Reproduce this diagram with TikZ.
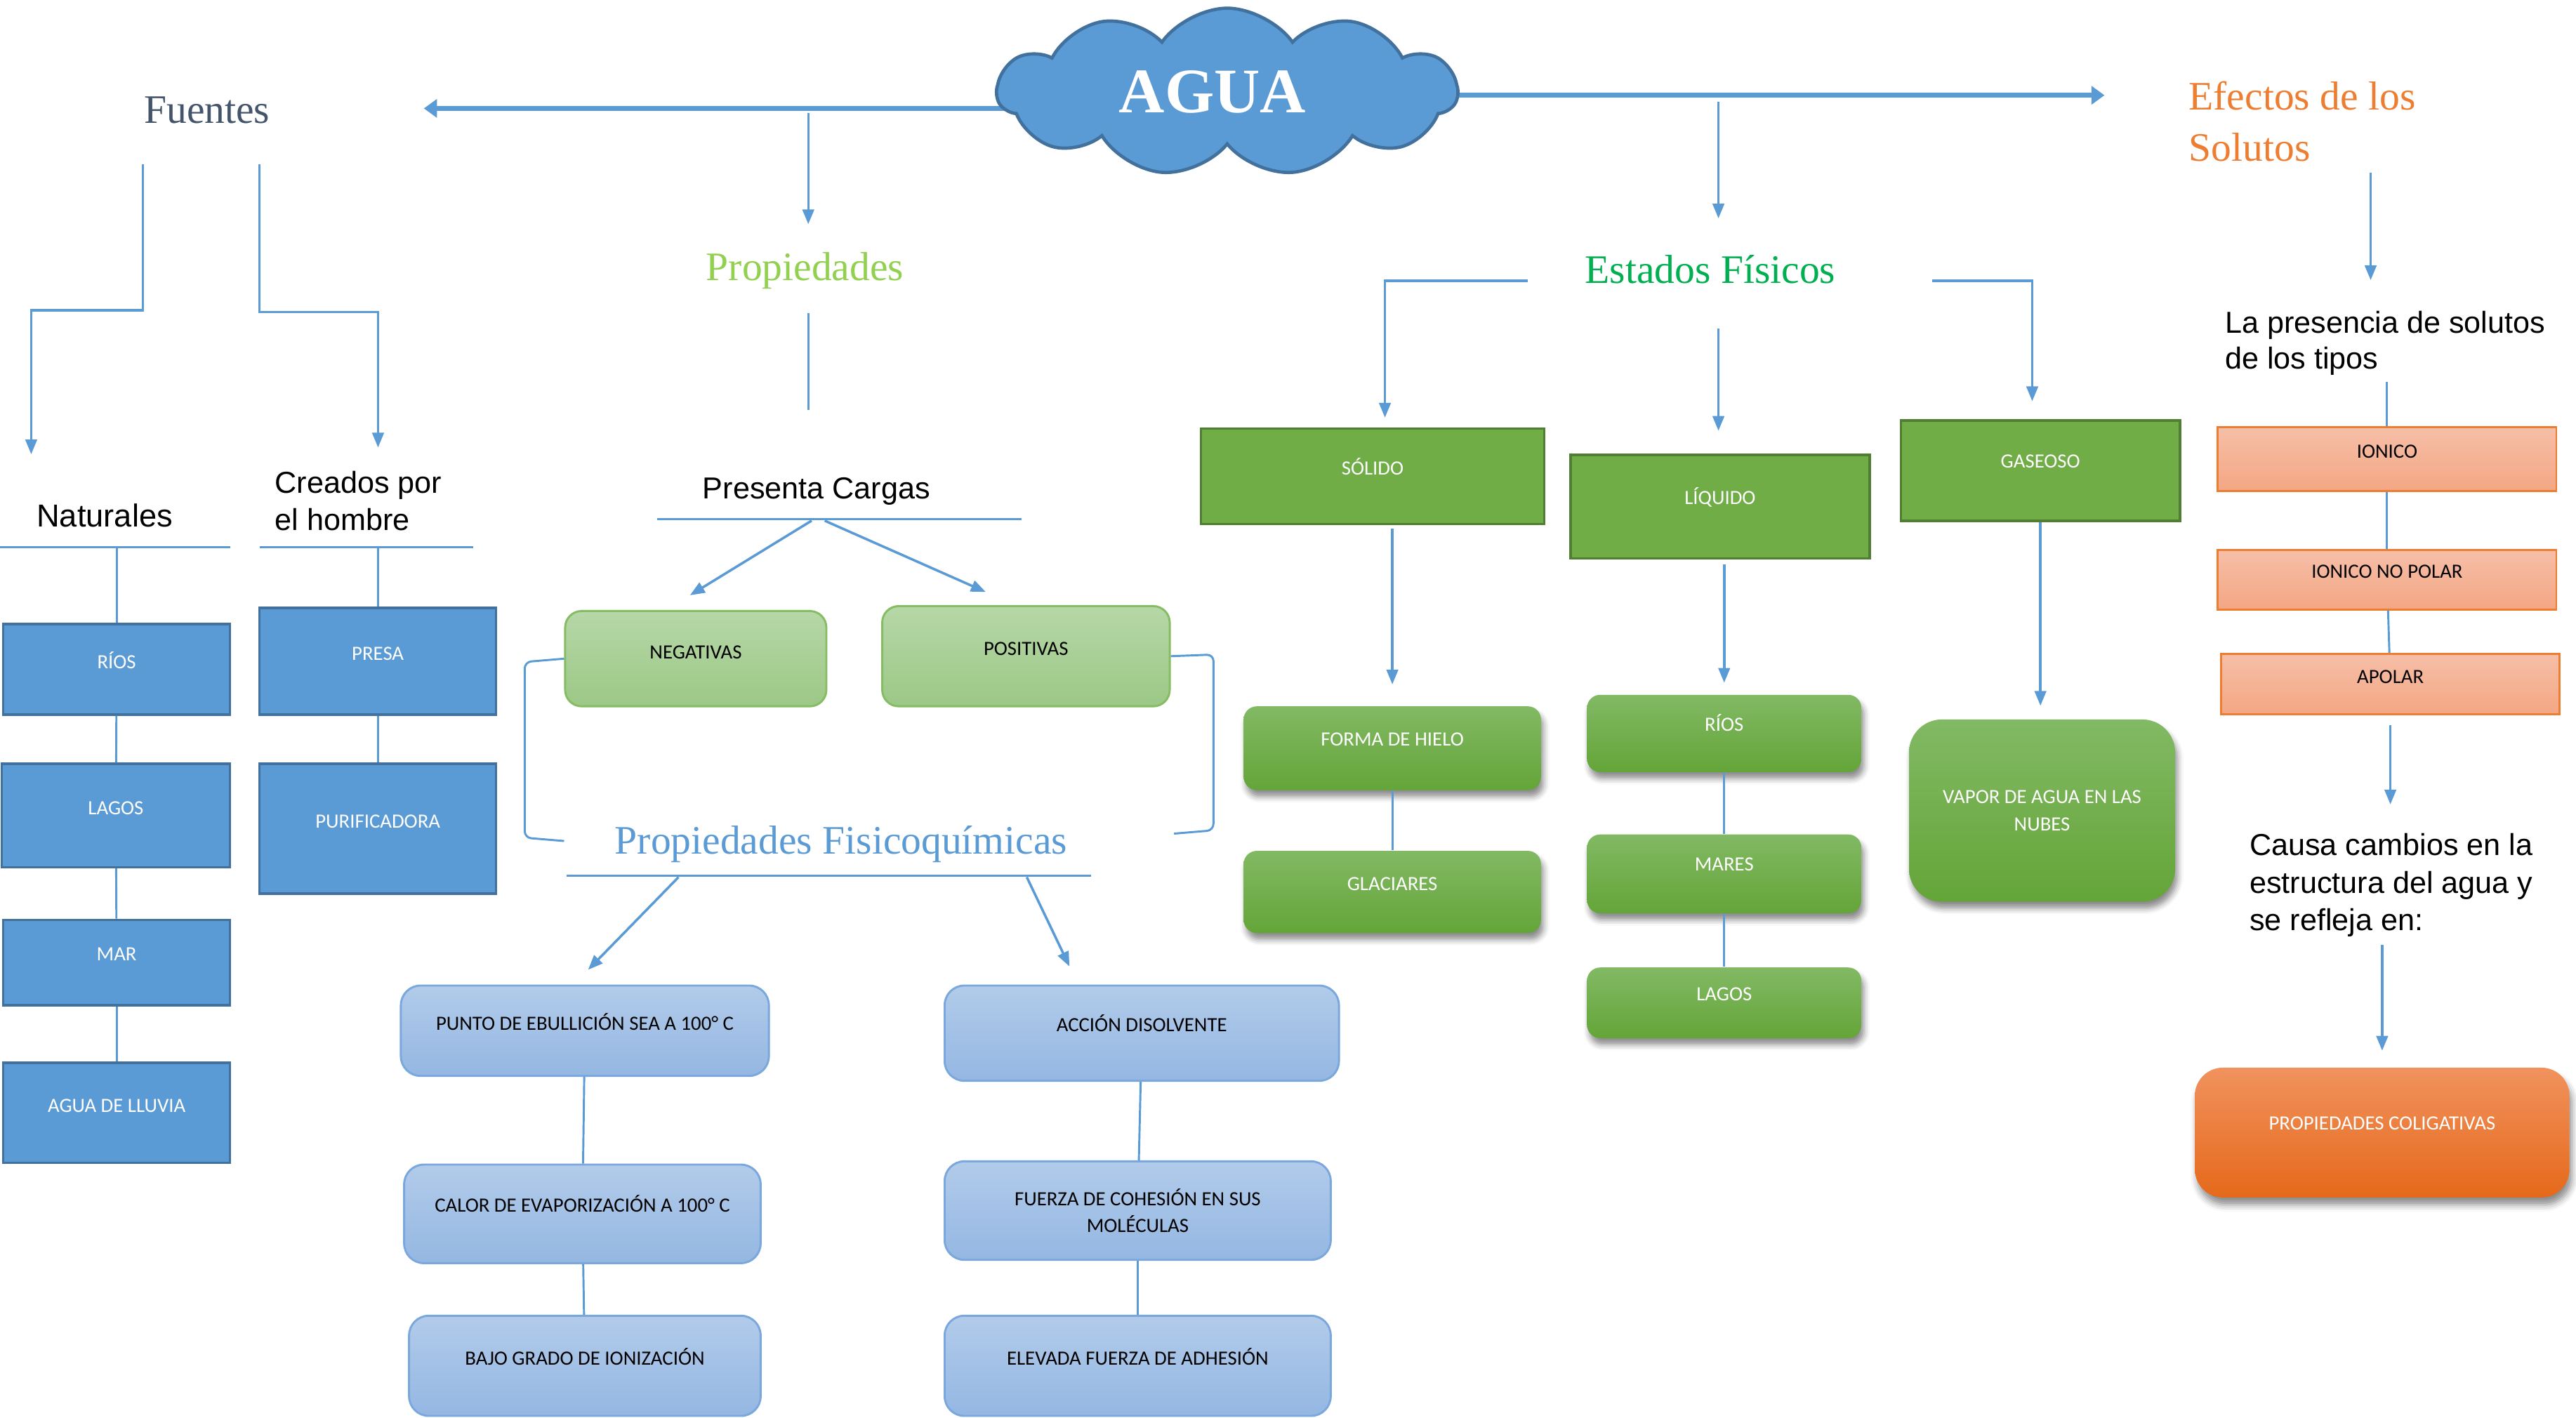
\documentclass[tikz,border=0pt]{standalone}
\usepackage{fontspec}
\setmainfont{Liberation Serif}
\newfontfamily\arialf{Liberation Sans}
\newfontfamily\calf{Carlito}
\usetikzlibrary{arrows.meta, shapes.symbols, shadows.blur, backgrounds}

\definecolor{cblue}{HTML}{5B9BD5}
\definecolor{cbluedark}{HTML}{41719C}
\definecolor{cgreen}{HTML}{70AD47}
\definecolor{cgreendark}{HTML}{507E32}
\definecolor{corange}{HTML}{ED7D31}
\definecolor{cslate}{HTML}{44546A}
\definecolor{clime}{HTML}{92D050}
\definecolor{cemerald}{HTML}{00B050}
\definecolor{lgtop}{HTML}{B6D7A7}
\definecolor{lgbot}{HTML}{9CC886}
\definecolor{lgline}{HTML}{86BC63}
\definecolor{lbtop}{HTML}{B2CBEA}
\definecolor{lbbot}{HTML}{94B7E2}
\definecolor{lbline}{HTML}{7AA7DC}
\definecolor{mgtop}{HTML}{82B964}
\definecolor{mgbot}{HTML}{64A538}
\definecolor{satop}{HTML}{F6BFA8}
\definecolor{sabot}{HTML}{F4A683}
\definecolor{ortop}{HTML}{F1925E}
\definecolor{orbot}{HTML}{E5691A}

\begin{document}
\begin{tikzpicture}[
    x=0.2mm, y=-0.2mm,
    conn/.style={draw=cblue, line width=0.25mm},
    arrow/.style={draw=cblue, line width=0.3mm, -{Triangle[length=1.8mm, width=1.4mm]}},
    bigarrow/.style={draw=cblue, line width=0.6mm, -{Triangle[length=1.6mm, width=2.2mm]}},
    head/.style={inner sep=0pt, align=left, font=\fontsize{14pt}{17.6pt}\selectfont},
    note/.style={inner sep=0pt, align=left, font=\arialf\fontsize{10.5pt}{13pt}\selectfont},
    box/.style={align=center, inner xsep=2pt, inner ysep=0pt, font=\calf\fontsize{7pt}{9.4pt}\selectfont},
    dim/.style n args={3}{minimum width=#1mm, text height=#2mm, text depth=#3mm},
    srcbox/.style={box, fill=cblue, draw=cbluedark, line width=0.3mm, text=white},
    chgbox/.style={box, rounded corners=2mm, top color=lgtop, bottom color=lgbot, draw=lgline, line width=0.25mm},
    fqbox/.style={box, rounded corners=2.4mm, top color=lbtop, bottom color=lbbot, draw=lbline, line width=0.25mm},
    statebox/.style={box, fill=cgreen, draw=cgreendark, line width=0.3mm, text=white},
    formbox/.style={box, rounded corners=1.6mm, top color=mgtop, bottom color=mgbot, text=white,
      blur shadow={shadow xshift=0.3mm, shadow yshift=-0.8mm, shadow blur radius=0.7mm, shadow opacity=45}},
    solbox/.style={box, top color=satop, bottom color=sabot, draw=corange, line width=0.25mm},
    endbox/.style={box, rounded corners=3.4mm, top color=ortop, bottom color=orbot, text=white,
      blur shadow={shadow xshift=0.3mm, shadow yshift=-0.9mm, shadow blur radius=0.8mm, shadow opacity=45}}
  ]
    \useasboundingbox (0,0) rectangle (1568,863);

    \node[cloud, cloud puffs=11, cloud puff arc=110, aspect=2.7, fill=cblue, draw=cbluedark, line width=0.4mm,
          minimum width=56mm, minimum height=20.4mm, inner sep=0pt, text=white,
          font=\bfseries\fontsize{22pt}{22pt}\selectfont] (agua) at (747,56) {AGUA\kern3.6mm};

    \node[head, text=cslate] (fuentes) at (126,67) {Fuentes};
    \node[head, text=clime] (prop) at (490,165) {Propiedades};
    \node[head, text=cemerald] (estados) at (1041,164) {Estados Físicos};
    \node[head, text=cblue] (fisico) at (512,514) {Propiedades Fisicoquímicas};
    \node[head, text=corange, anchor=west] (efectos) at (1332,74) {Efectos de los\\Solutos};

    \node[note, anchor=west, font=\arialf\fontsize{11pt}{13pt}\selectfont] (naturales) at (22,314) {Naturales};
    \node[note, anchor=west] (creados) at (167,305) {Creados por\\el hombre};
    \node[note] (cargas) at (497,299) {Presenta Cargas};
    \node[note, anchor=west, font=\arialf\fontsize{10.5pt}{12.5pt}\selectfont] (presencia) at (1354,209) {La presencia de solutos\\de los tipos};
    \node[note, anchor=west] (causa) at (1369,539) {Causa cambios en la\\estructura del agua y\\se refleja en:};

    \node[srcbox, dim={27.6}{5.4}{5.6}] (rios1) at (71,407.5) {RÍOS};
    \node[srcbox, dim={27.8}{6.2}{6.4}] (lagos1) at (70.5,496.5) {LAGOS};
    \node[srcbox, dim={27.6}{5.0}{5.4}] (mar) at (71,586) {MAR};
    \node[srcbox, dim={27.6}{6.0}{6.2}] (lluvia) at (71,677.5) {AGUA DE LLUVIA};
    \node[srcbox, dim={28.8}{6.4}{6.6}] (presa) at (230,402.5) {PRESA};
    \node[srcbox, dim={28.8}{7.8}{8.0}] (purif) at (230,504.5) {PURIFICADORA};

    \node[chgbox, dim={31.8}{5.8}{5.8}] (neg) at (423.5,401) {NEGATIVAS};
    \node[chgbox, dim={35}{6.0}{6.2}] (pos) at (624.5,399.5) {POSITIVAS};

    \node[fqbox, dim={44.8}{5.4}{5.6}] (ebull) at (356,627.5) {PUNTO DE EBULLICIÓN SEA A 100° C};
    \node[fqbox, dim={43.4}{5.8}{6.2}] (calor) at (354.5,739) {CALOR DE EVAPORIZACIÓN A 100° C};
    \node[fqbox, dim={42.8}{6.0}{6.2}] (bajo) at (356,831.5) {BAJO GRADO DE IONIZACIÓN};
    \node[fqbox, dim={48}{5.6}{6.0}] (accion) at (695,629) {ACCIÓN DISOLVENTE};
    \node[fqbox, minimum width=47mm, minimum height=12mm] (fuerza) at (692.5,737) {FUERZA DE COHESIÓN EN SUS\\MOLÉCULAS};
    \node[fqbox, dim={47}{6.0}{6.2}] (elevada) at (692.5,831.5) {ELEVADA FUERZA DE ADHESIÓN};

    \node[statebox, dim={41.8}{5.6}{6.0}] (solido) at (835.5,290) {SÓLIDO};
    \node[statebox, dim={36.4}{6.0}{6.6}] (liquido) at (1047,308.5) {LÍQUIDO};
    \node[statebox, dim={34}{5.8}{6.4}] (gaseoso) at (1242,286.5) {GASEOSO};

    \node[formbox, dim={36.2}{4.8}{5.4}] (hielo) at (847.5,455.5) {FORMA DE HIELO};
    \node[formbox, dim={36.2}{4.8}{5.2}] (glaciares) at (847.5,543) {GLACIARES};
    \node[formbox, dim={33.4}{4.4}{5.0}] (rios2) at (1049.5,446.5) {RÍOS};
    \node[formbox, dim={33.4}{4.4}{5.2}] (mares) at (1049.5,532) {MARES};
    \node[formbox, dim={33.4}{4.0}{4.6}] (lagos2) at (1049.5,610.5) {LAGOS};
    \node[formbox, rounded corners=4mm, minimum width=32.4mm, minimum height=22.2mm] (vapor) at (1243,493.5) {VAPOR DE AGUA EN LAS\\NUBES};

    \node[solbox, dim={41.2}{3.8}{4.0}] (ionico) at (1453,279.5) {IONICO};
    \node[solbox, dim={41.2}{3.4}{3.8}] (nopolar) at (1453,353) {IONICO NO POLAR};
    \node[solbox, dim={41.2}{3.6}{3.8}] (apolar) at (1455,416.5) {APOLAR};
    \node[endbox, dim={45.6}{7.6}{8.2}] (coliga) at (1450,689.5) {PROPIEDADES COLIGATIVAS};

    \coordinate (ftip) at (258,66);
    \coordinate (etip) at (1281,58);
    \begin{scope}[on background layer]
      \draw[bigarrow] (agua.center |- ftip) -- (ftip);
      \draw[bigarrow] (agua.center |- etip) -- (etip);
    \end{scope}

    \coordinate (f1) at (87,100);
    \coordinate (f2) at (158,100);
    \draw[arrow] (f1) -- ++(0,89) -| ([shift={(-3,-30)}]naturales.north west);
    \draw[arrow] (f2) -- ++(0,90) -| ([shift={(12,-14)}]creados.north);

    \coordinate (nu1) at (0,333);
    \coordinate (nu2) at (140,333);
    \coordinate (cu1) at (158,333);
    \coordinate (cu2) at (288,333);
    \draw[conn] (nu1) -- (nu2);
    \draw[conn] (cu1) -- (cu2);
    \draw[conn] (rios1.north |- nu1) -- (rios1.north);
    \draw[conn] (presa.north |- cu1) -- (presa.north);
    \draw[conn] (rios1) -- (lagos1);
    \draw[conn] (lagos1) -- (mar);
    \draw[conn] (mar) -- (lluvia);
    \draw[conn] (presa) -- (purif);

    \coordinate (pa) at (492,69);
    \draw[arrow, shorten >=3.4mm] (pa) -- (pa |- prop.north);
    \draw[conn, shorten <=2.8mm, shorten >=8.1mm] (prop.south -| pa) -- (cargas.north -| pa);
    \coordinate (cg1) at (400,316);
    \coordinate (cg2) at (622,316);
    \draw[conn] (cg1) -- (cg2);
    \coordinate (cgn) at (494,317);
    \coordinate (cgp) at (502,317);
    \draw[arrow] (cgn) -- ([shift={(-3.5,-9)}]neg.north);
    \draw[arrow] (cgp) -- ([shift={(-24.5,-8)}]pos.north);
    \draw[conn, rounded corners=0.8mm] (neg.west) -- ++(-24,2) -- ++(0,107) -- ++(24,2);
    \draw[conn, rounded corners=0.8mm] (pos.east) -- ++(26,-1) -- ++(0,107) -- ++(-24,2);

    \coordinate (fq1) at (345,533);
    \coordinate (fq2) at (664,533);
    \draw[conn] (fq1) -- (fq2);
    \coordinate (fqa) at (413,534);
    \coordinate (fqb) at (625,534);
    \draw[arrow] (fqa) -- ([shift={(2,-9)}]ebull.north);
    \draw[arrow] (fqb) -- ([shift={(-44,-11)}]accion.north);
    \draw[conn] (ebull) -- (calor);
    \draw[conn] (calor) -- (bajo);
    \draw[conn] (accion) -- (fuerza);
    \draw[conn] (fuerza) -- (elevada);

    \coordinate (eb) at (1046,62);
    \draw[arrow, shorten >=4.4mm] (eb) -- (eb |- estados.north);
    \coordinate (esl) at (930,171);
    \coordinate (esm) at (1046,200);
    \coordinate (esr) at (1176,171);
    \draw[arrow] (esl) -| ([shift={(7.5,-6)}]solido.north);
    \draw[arrow] (esm) -- ([shift={(-1,-14)}]liquido.north);
    \draw[arrow] (esr) -| ([shift={(-5,-11)}]gaseoso.north);
    \draw[arrow, shorten <=0.4mm, shorten >=2.6mm] (hielo.north |- solido.south) -- (hielo.north);
    \draw[arrow, shorten <=0.6mm, shorten >=1.4mm] (rios2.north |- liquido.south) -- (rios2.north);
    \draw[arrow, shorten >=1.6mm] (gaseoso.south) -- (gaseoso.south |- vapor.north);
    \draw[conn] (hielo) -- (glaciares);
    \draw[conn] (rios2) -- (mares);
    \draw[conn] (mares) -- (lagos2);

    \coordinate (ef) at (1443,105);
    \draw[arrow, shorten >=3.7mm] (ef) -- (ef |- presencia.north);
    \draw[conn, shorten <=0.7mm] (presencia.south -| ionico.north) -- (ionico.north);
    \draw[conn] (ionico) -- (nopolar);
    \draw[conn] (nopolar) -- (apolar);
    \draw[arrow, shorten <=1.2mm, shorten >=3.5mm] (apolar.south) -- (apolar.south |- causa.north);
    \draw[arrow, shorten <=0.9mm, shorten >=2mm] (causa.south -| coliga.north) -- (coliga.north);
  \end{tikzpicture}
\end{document}
